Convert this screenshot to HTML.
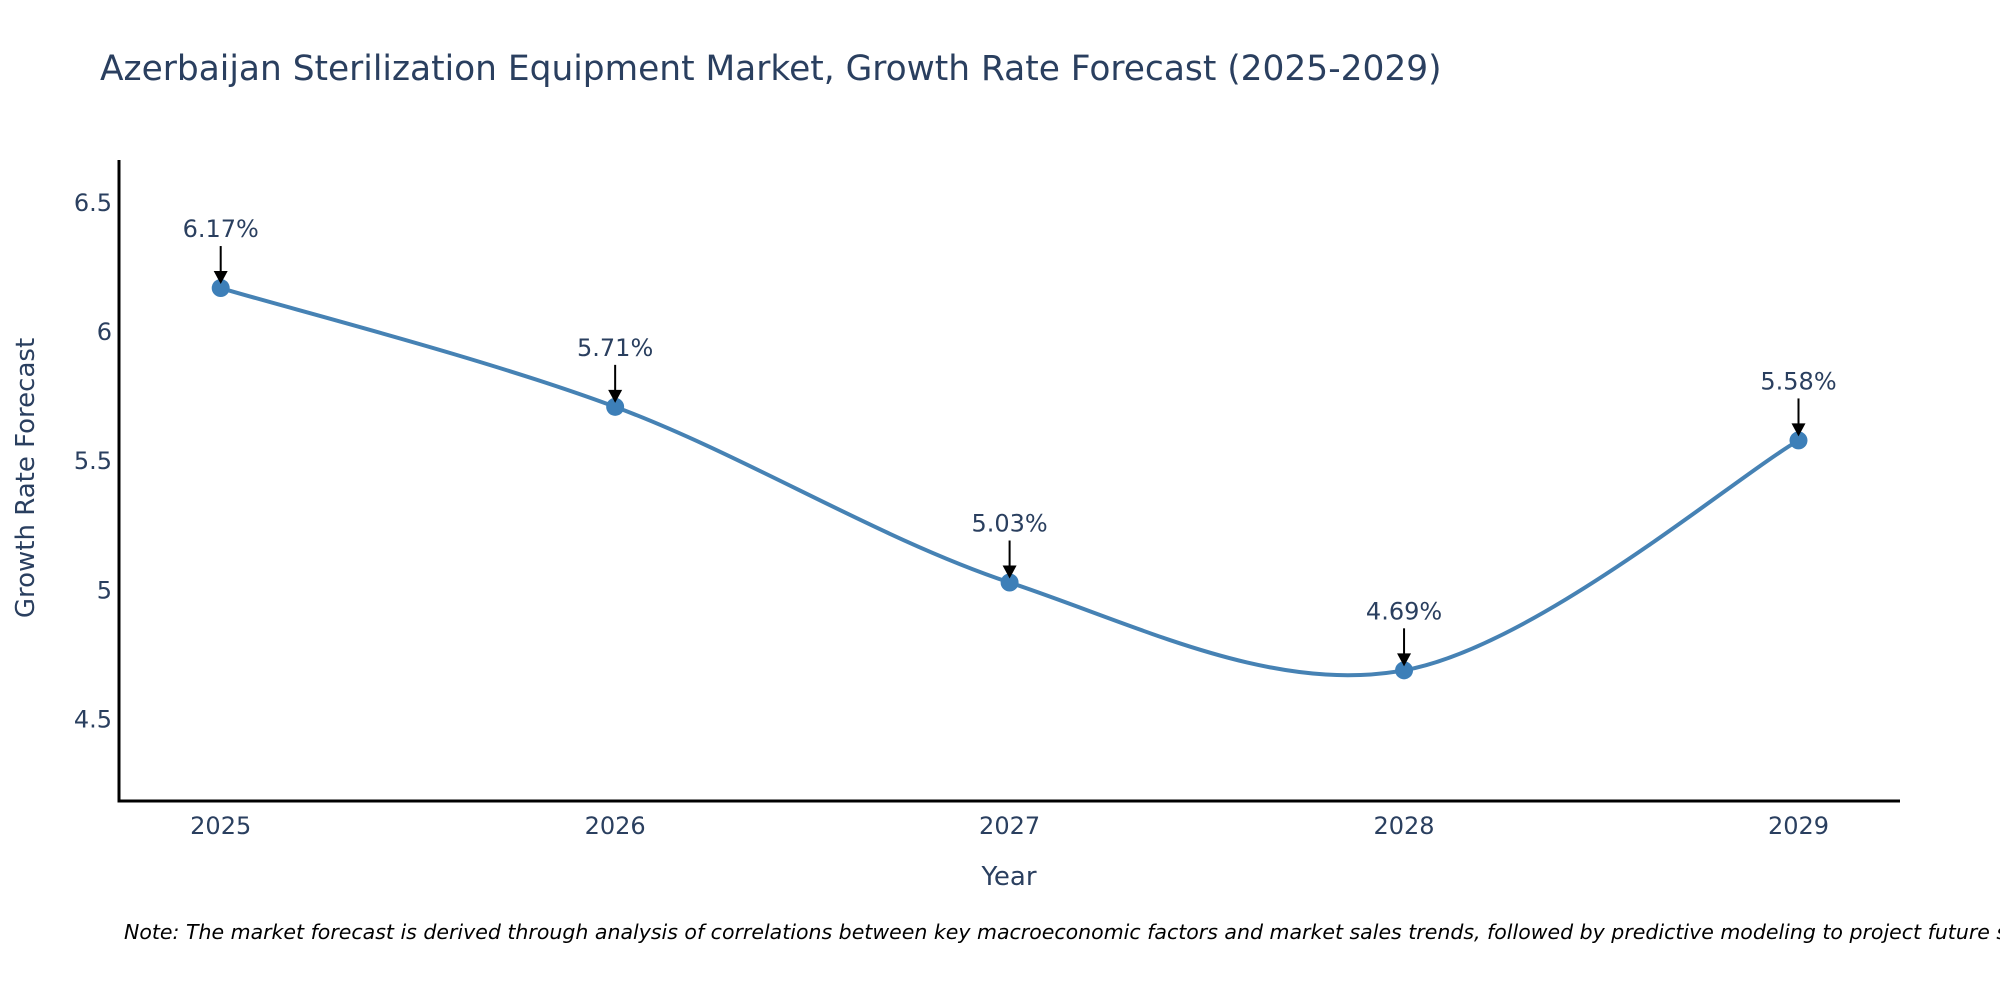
<!DOCTYPE html>
<html><head><meta charset="utf-8">
<style>
html,body{margin:0;padding:0;background:#fff;}
svg{display:block;font-family:"DejaVu Sans","Liberation Sans",sans-serif;}
</style></head>
<body>
<svg id="chart" width="2000" height="1000" viewBox="0 0 2000 1000" xmlns="http://www.w3.org/2000/svg">
<rect width="2000" height="1000" fill="#fff"/>
<text x="100" y="80" font-size="34.4" fill="#2a3f5f">Azerbaijan Sterilization Equipment Market, Growth Rate Forecast (2025-2029)</text>
<g id="yticks"></g>
<g id="xticks"></g>
<line x1="119" y1="160" x2="119" y2="802" stroke="#000" stroke-width="3"/>
<line x1="117.5" y1="801" x2="1900" y2="801" stroke="#000" stroke-width="3"/>
<path id="line" fill="none" stroke="#4682b4" stroke-width="4"/>
<g id="points"></g>
<g id="annots"></g>
<text x="1009" y="885" font-size="26" fill="#2a3f5f" text-anchor="middle">Year</text>
<text x="0" y="0" font-size="26" fill="#2a3f5f" text-anchor="middle" transform="translate(34,478) rotate(-90)">Growth Rate Forecast</text>
<text x="124" y="939" font-size="20.5" font-style="italic" fill="#000">Note: The market forecast is derived through analysis of correlations between key macroeconomic factors and market sales trends, followed by predictive modeling to project future sales.</text>
</svg>
<script>
const years = ['2025','2026','2027','2028','2029'];
const values = [6.17, 5.71, 5.03, 4.69, 5.58];
const yTicks = [4.5, 5, 5.5, 6, 6.5];
const yTickLabels = ['4.5','5','5.5','6','6.5'];

const NS = 'http://www.w3.org/2000/svg';
const xPos = i => 220.7 + i * (1798.5 - 220.7) / (years.length - 1);
const yPos = v => 719.4 - (v - 4.5) * (719.4 - 202.8) / 2;
function mk(tag, attrs, parent, txt) {
  const e = document.createElementNS(NS, tag);
  for (const k in attrs) e.setAttribute(k, attrs[k]);
  if (txt !== undefined) e.textContent = txt;
  parent.appendChild(e);
  return e;
}
const yg = document.getElementById('yticks');
yTicks.forEach((t, i) => {
  const el = mk('text', {x: 112, y: yPos(t) + 8, 'font-size': 24, fill: '#2a3f5f', 'text-anchor': 'end'}, yg, yTickLabels[i]);
  
  
});
const xg = document.getElementById('xticks');
years.forEach((y, i) => {
  const el = mk('text', {x: xPos(i), y: 834, 'font-size': 24, fill: '#2a3f5f', 'text-anchor': 'middle'}, xg, y);
  
  
});
const pts = values.map((v, i) => [xPos(i), yPos(v)]);
let d = 'M' + pts[0][0] + ',' + pts[0][1];
for (let i = 0; i < pts.length - 1; i++) {
  const p0 = pts[Math.max(0, i - 1)], p1 = pts[i], p2 = pts[i + 1], p3 = pts[Math.min(pts.length - 1, i + 2)];
  const c1 = [p1[0] + (p2[0] - p0[0]) / 6, p1[1] + (p2[1] - p0[1]) / 6];
  const c2 = [p2[0] - (p3[0] - p1[0]) / 6, p2[1] - (p3[1] - p1[1]) / 6];
  d += ' C' + c1.join(',') + ' ' + c2.join(',') + ' ' + p2.join(',');
}
document.getElementById('line').setAttribute('d', d);
const pg = document.getElementById('points');
const ag = document.getElementById('annots');
pts.forEach((p, i) => {
  const c = mk('circle', {cx: p[0], cy: p[1], r: 9, fill: '#3d7fb8'}, pg);
  
  
  const ln = mk('line', {x1: p[0], y1: p[1] - 42, x2: p[0], y2: p[1] - 16, stroke: '#000', 'stroke-width': 2}, ag);
  
  
  const hd = mk('polygon', {points: `${p[0]-7},${p[1]-17} ${p[0]+7},${p[1]-17} ${p[0]},${p[1]-4}`, fill: '#000'}, ag);
  
  
  const t = mk('text', {x: p[0], y: p[1] - 51, 'font-size': 24, fill: '#2a3f5f', 'text-anchor': 'middle'}, ag, values[i].toFixed(2) + '%');
  
  
});
</script>
</body></html>
